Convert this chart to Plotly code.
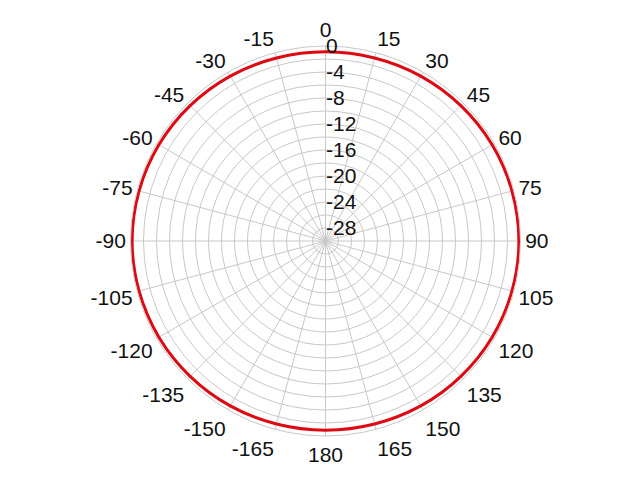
import plotly.graph_objects as go

angles = [0, 15, 30, 45, 60, 75, 90, 105, 120, 135, 150, 165, 180,
          195, 210, 225, 240, 255, 270, 285, 300, 315, 330, 345, 360]
gain_db = [-0.9, -0.85, -0.7, -0.55, -0.4, -0.3, -0.25, -0.3, -0.4, -0.55, -0.7, -0.85, -0.9,
           -0.85, -0.7, -0.55, -0.4, -0.3, -0.25, -0.3, -0.4, -0.55, -0.7, -0.85, -0.9]

angle_ticks = list(range(0, 360, 15))
angle_labels = ["0", "15", "30", "45", "60", "75", "90", "105", "120", "135", "150", "165", "180",
                "-165", "-150", "-135", "-120", "-105", "-90", "-75", "-60", "-45", "-30", "-15"]
radial_ticks = list(range(-30, 1, 2))
radial_labels = [str(v) if v % 4 == 0 and v > -30 else "" for v in radial_ticks]

fig = go.Figure()
fig.add_trace(go.Scatterpolar(
    r=gain_db, theta=angles, mode="lines", cliponaxis=False,
    line=dict(color="#dd0a14", width=3, shape="spline"), showlegend=False,
))

grid = "#c8c8c8"
fig.update_layout(
    width=640, height=480,
    paper_bgcolor="white",
    font=dict(family="Liberation Sans, Arial, sans-serif", size=21, color="#111"),
    margin=dict(l=80, r=85, t=38, b=52),
    polar=dict(
        bgcolor="white",
        radialaxis=dict(
            range=[-30, 0], tickvals=radial_ticks, ticktext=radial_labels,
            angle=90, tickangle=90, showline=False, gridcolor=grid, gridwidth=1,
            ticks="", tickfont=dict(size=21),
        ),
        angularaxis=dict(
            rotation=90, direction="clockwise",
            tickvals=angle_ticks, ticktext=angle_labels,
            gridcolor=grid, linecolor=grid, linewidth=1, ticks="",
            tickfont=dict(size=21),
        ),
    ),
)
fig.write_html("out.html")
